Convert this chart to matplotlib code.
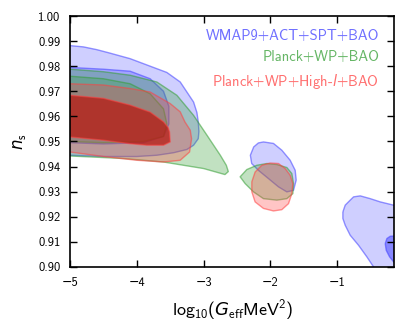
import matplotlib
matplotlib.use("Agg")
import matplotlib.pyplot as plt

plt.rcParams['font.family'] = ['cmss10', 'DejaVu Sans']
plt.rcParams['mathtext.fontset'] = 'custom'
plt.rcParams['mathtext.rm'] = 'cmss10'
plt.rcParams['mathtext.it'] = 'DejaVu Sans:italic'
plt.rcParams['mathtext.fallback'] = 'cm'

# contour outlines (log10 Geff, n_s)
wmap_2s_left_x = [-5.1, -5.0, -4.8, -4.6, -4.4, -4.1, -3.8, -3.55, -3.35, -3.22, -3.15, -3.1, -3.08, -3.07, -3.08,
                  -3.15, -3.25, -3.45, -3.7, -4.0, -4.5, -5.0, -5.1]
wmap_2s_left_y = [0.9882, 0.9882, 0.9877, 0.9866, 0.9852, 0.983, 0.980, 0.9775, 0.9737, 0.9685, 0.9657, 0.9615,
                  0.9578, 0.954, 0.9511, 0.9485, 0.9468, 0.9455, 0.9445, 0.944, 0.944, 0.9445, 0.9445]
wmap_1s_left_x = [-5.1, -5.0, -4.5, -4.1, -3.8, -3.6, -3.52, -3.52, -3.6, -3.9, -4.5, -5.0, -5.1]
wmap_1s_left_y = [0.9795, 0.9795, 0.9788, 0.978, 0.975, 0.970, 0.964, 0.957, 0.952, 0.9495, 0.949, 0.9495, 0.9495]
wmap_2s_mid_x = [-2.18, -2.104, -1.954, -1.829, -1.704, -1.629, -1.614, -1.654, -1.754, -1.879, -2.029, -2.18,
                 -2.28, -2.30, -2.25]
wmap_2s_mid_y = [0.9494, 0.9498, 0.9492, 0.9465, 0.9425, 0.9385, 0.9346, 0.9305, 0.9299, 0.9319, 0.9352, 0.9385,
                 0.9412, 0.9445, 0.9478]
wmap_2s_right_x = [-0.915, -0.88, -0.805, -0.755, -0.655, -0.506, -0.356, -0.156, 0.1, 0.1, -0.42, -0.456,
                   -0.556, -0.68, -0.805, -0.88, -0.915]
wmap_2s_right_y = [0.9219, 0.9246, 0.9266, 0.9279, 0.9283, 0.9272, 0.9259, 0.9246, 0.922, 0.89, 0.89, 0.900,
                   0.904, 0.9086, 0.9126, 0.9166, 0.9193]
wmap_1s_right_x = [-0.281, -0.256, -0.206, -0.156, 0.1, 0.1, -0.156, -0.216, -0.266]
wmap_1s_right_y = [0.9093, 0.9113, 0.9122, 0.9123, 0.912, 0.895, 0.902, 0.904, 0.9066]

planck_2s_left_x = [-5.1, -5.0, -4.5, -4.1, -3.7, -3.4, -3.15, -2.95, -2.75, -2.66, -2.63, -2.68, -3.0, -3.3,
                    -3.6, -4.2, -5.0, -5.1]
planck_2s_left_y = [0.9788, 0.9788, 0.9778, 0.9764, 0.9737, 0.9684, 0.9604, 0.9525, 0.9445, 0.9405, 0.938,
                    0.9368, 0.9392, 0.9405, 0.9418, 0.9432, 0.9442, 0.9442]
planck_1s_left_x = [-5.1, -5.0, -4.5, -4.1, -3.8, -3.6, -3.55, -3.6, -3.9, -4.5, -5.0, -5.1]
planck_1s_left_y = [0.976, 0.976, 0.975, 0.973, 0.969, 0.963, 0.957, 0.952, 0.950, 0.9495, 0.950, 0.950]
planck_2s_mid_x = [-2.453, -2.353, -2.203, -2.053, -1.903, -1.754, -1.679, -1.654, -1.664, -1.754, -1.903,
                   -2.104, -2.253, -2.378]
planck_2s_mid_y = [0.9359, 0.9388, 0.9405, 0.9412, 0.9408, 0.9396, 0.9372, 0.9332, 0.9292, 0.9272, 0.9266,
                   0.9272, 0.9299, 0.9332]

highl_2s_left_x = [-5.1, -5.0, -4.5, -4.1, -3.8, -3.5, -3.35, -3.28, -3.2, -3.18, -3.21, -3.35, -3.6, -4.0,
                   -4.5, -5.0, -5.1]
highl_2s_left_y = [0.973, 0.973, 0.9725, 0.9711, 0.9697, 0.9651, 0.9618, 0.9578, 0.9545, 0.9511, 0.9458, 0.9425,
                   0.9418, 0.9425, 0.944, 0.9458, 0.9458]
highl_1s_left_x = [-5.1, -5.0, -4.5, -4.1, -3.8, -3.6, -3.53, -3.51, -3.50, -3.6, -3.85, -4.1, -4.5, -5.0, -5.1]
highl_1s_left_y = [0.9684, 0.9684, 0.9672, 0.9645, 0.9617, 0.9578, 0.9555, 0.9538, 0.9498, 0.9485, 0.9485,
                   0.9491, 0.9505, 0.9518, 0.9518]
highl_2s_mid_x = [-2.004, -1.879, -1.779, -1.704, -1.664, -1.679, -1.729, -1.829, -1.954, -2.104, -2.229, -2.278,
                  -2.278, -2.229, -2.129]
highl_2s_mid_y = [0.9414, 0.9412, 0.9392, 0.9365, 0.9332, 0.9292, 0.9252, 0.9228, 0.9223, 0.9233, 0.9259, 0.9299,
                  0.9339, 0.9378, 0.9405]

labels = ['WMAP9+ACT+SPT+BAO', 'Planck+WP+BAO', r'Planck+WP+High-$l$+BAO']
xticks = [-5, -4, -3, -2, -1]
yticks = [0.90, 0.91, 0.92, 0.93, 0.94, 0.95, 0.96, 0.97, 0.98, 0.99, 1.00]

blue = (0.25, 0.25, 1.0)
green = (0.2, 0.62, 0.2)
red = (1.0, 0.25, 0.25)
dark_red = (0.72, 0.1, 0.07)

fig = plt.figure(figsize=(4.07, 3.34), dpi=100)
ax = fig.add_axes([0.172, 0.201, 0.796, 0.751])


def region(xs, ys, col, alpha, ecol=None):
    ax.fill(xs, ys, facecolor=col, alpha=alpha, edgecolor='none')
    ax.fill(xs, ys, facecolor='none', edgecolor=ecol if ecol else col,
            alpha=0.55, lw=1.0, joinstyle='round')


region(wmap_2s_left_x, wmap_2s_left_y, blue, 0.25)
region(wmap_1s_left_x, wmap_1s_left_y, blue, 0.3)
region(wmap_2s_mid_x, wmap_2s_mid_y, blue, 0.25)
region(wmap_2s_right_x, wmap_2s_right_y, blue, 0.25)
region(wmap_1s_right_x, wmap_1s_right_y, blue, 0.5)

region(planck_2s_left_x, planck_2s_left_y, green, 0.3)
region(planck_1s_left_x, planck_1s_left_y, green, 0.3)
region(planck_2s_mid_x, planck_2s_mid_y, green, 0.3)

region(highl_2s_left_x, highl_2s_left_y, red, 0.3)
region(highl_1s_left_x, highl_1s_left_y, dark_red, 0.75, red)
region(highl_2s_mid_x, highl_2s_mid_y, red, 0.3)

for i, (lab, col) in enumerate(zip(labels, [blue, green, red])):
    ax.text(0.955, 0.95 - i * 0.086, lab, transform=ax.transAxes, ha='right', va='top',
            color=col, alpha=0.75, fontsize=10.5)

ax.set_xlim(-5, -0.15)
ax.set_ylim(0.90, 1.00)
ax.set_xticks(xticks)
ax.set_yticks(yticks)
ax.set_xticklabels([f"\u2212{abs(t)}" for t in xticks])
ax.set_yticklabels([f"{t:.2f}" for t in yticks])
ax.tick_params(direction='in', top=True, right=True, length=5, width=1, labelsize=9)
ax.tick_params(axis='y', pad=7)
ax.tick_params(axis='x', pad=7)
for s in ax.spines.values():
    s.set_linewidth(1.2)
ax.set_xlabel(r'${\rm log}_{10}(G_{\rm eff}{\rm MeV}^2)$', fontsize=13, labelpad=6)
ax.set_ylabel(r'$n_{\rm s}$', fontsize=12, labelpad=7)

fig.savefig('out.png', dpi=100)
